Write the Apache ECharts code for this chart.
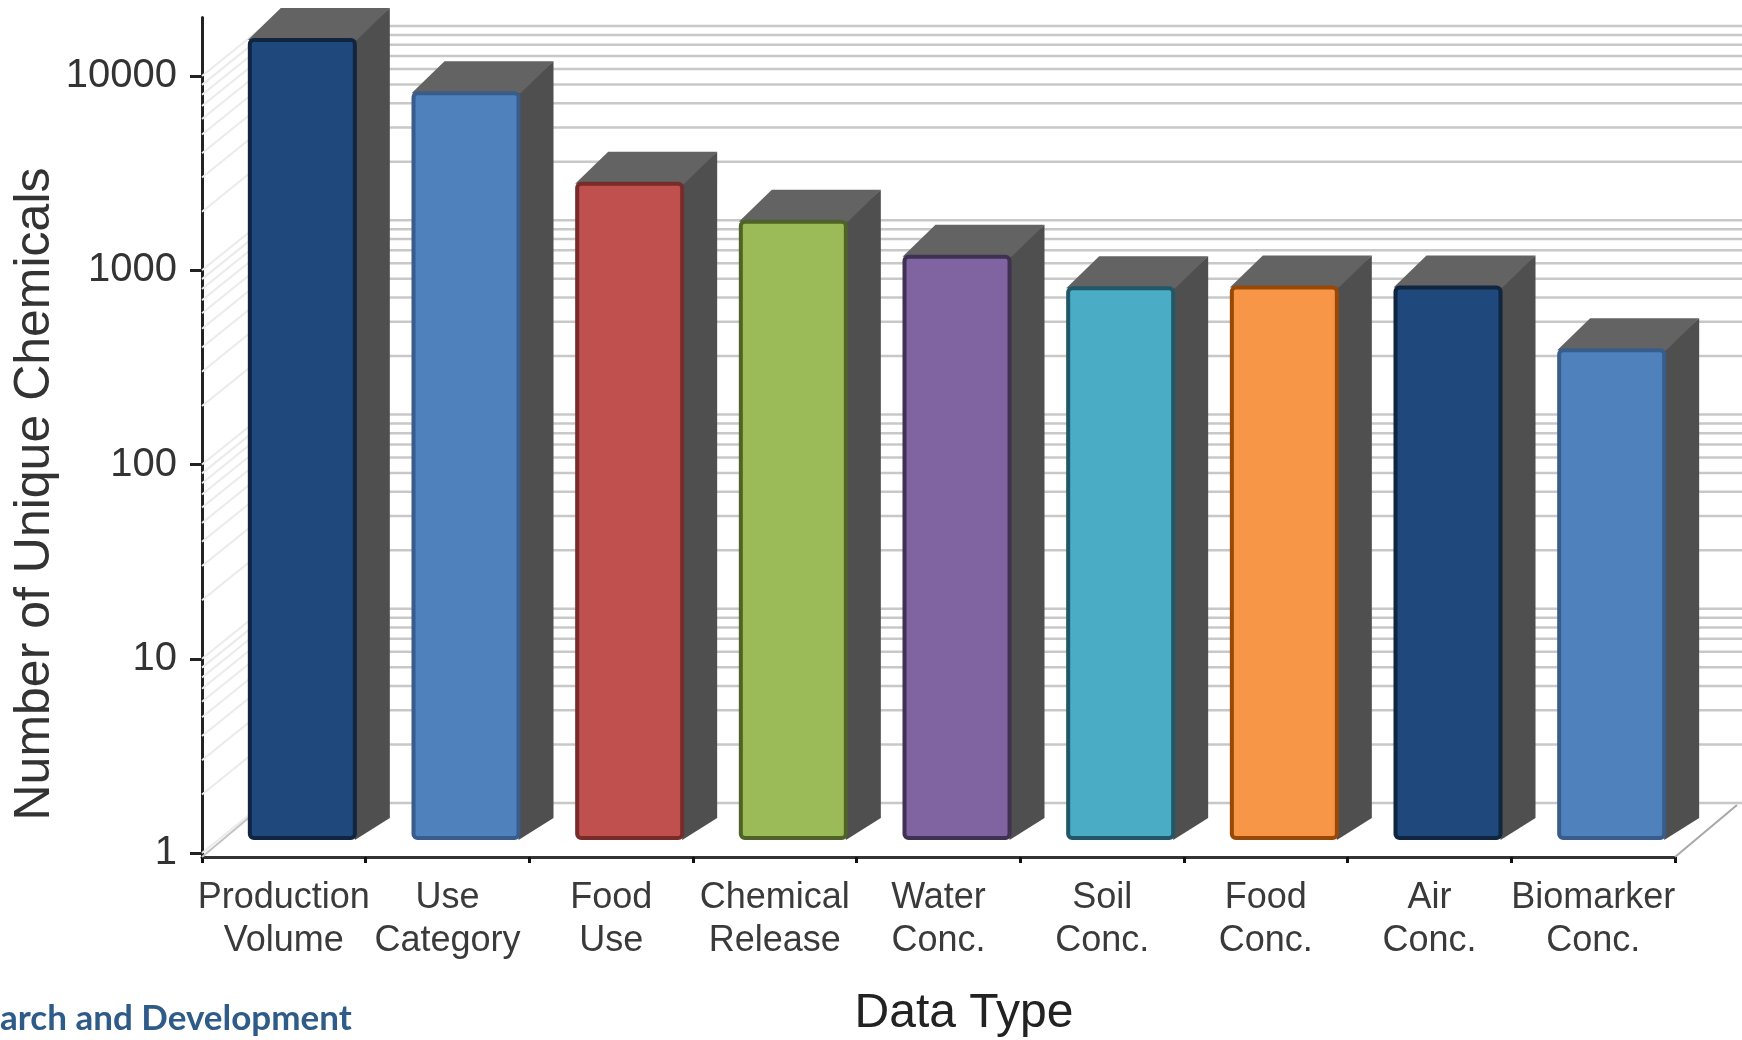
<!DOCTYPE html>
<html>
<head>
<meta charset="utf-8">
<title>Number of Unique Chemicals by Data Type</title>
<script src="https://cdn.jsdelivr.net/npm/echarts@6/dist/echarts.min.js"></script>
<style>
  html, body { margin: 0; padding: 0; background: #ffffff; }
  #chart { width: 1742px; height: 1040px; }
</style>
</head>
<body>
<div id="chart"></div>
<script>
// ---- data ----
const categories = [
  'Production\nVolume', 'Use\nCategory', 'Food\nUse', 'Chemical\nRelease',
  'Water\nConc.', 'Soil\nConc.', 'Food\nConc.', 'Air\nConc.', 'Biomarker\nConc.'
];
const chemicalCounts = [13450, 7150, 2450, 1560, 1030, 710, 715, 715, 340];
const barColors = ['#1f497d', '#4f81bd', '#c0504d', '#9bbb59', '#8064a2', '#4bacc6', '#f79646', '#1f497d', '#4f81bd'];
const barEdgeColors = ['#10253f', '#385d8a', '#772c2a', '#4f6228', '#3f3151', '#205867', '#984807', '#10253f', '#385d8a'];
const yTickValues = [1, 10, 100, 1000, 10000];

// minor log gridlines (1..9 within each decade) for the back wall
const wallGridValues = [];
yTickValues.slice(0, -1).forEach(function (d) {
  for (let m = 1; m <= 9; m++) wallGridValues.push(m * d);
});
wallGridValues.push(yTickValues[yTickValues.length - 1]);

// ---- pseudo-3D geometry (pixels) ----
const FONT = "'Liberation Sans', Arial, Helvetica, sans-serif";
const WALL_DX = 62, WALL_DY = 50;      // back wall offset from the axis plane
const FRONT_DX = 18.5, FRONT_DY = 13;  // front face of the bars from the axis plane
const BAR_W = 109;                     // front face width
const DEPTH_DX = 33, TOP_DY = 30, BOTTOM_DY = 22; // bar extrusion
const AXIS_Y_SHIFT = 4;                // x-axis line sits just below value 1

const chart = echarts.init(document.getElementById('chart'), null, { renderer: 'canvas' });

function renderWall(params, api) {
  const v = api.value(1);
  const p = api.coord([0, v]);
  const cs = params.coordSys;
  const yBack = p[1] - WALL_DY;
  const children = [
    { type: 'line', shape: { x1: cs.x + WALL_DX, y1: yBack, x2: api.getWidth(), y2: yBack },
      style: { stroke: '#c8c8c8', lineWidth: 2.5 } },
    { type: 'line', shape: { x1: cs.x, y1: p[1], x2: cs.x + WALL_DX, y2: yBack },
      style: { stroke: '#ebebeb', lineWidth: 2 } }
  ];
  if (params.dataIndex === 0) {
    const yFloor = p[1] + AXIS_Y_SHIFT;
    children.push(
      { type: 'line', shape: { x1: cs.x, y1: yFloor, x2: cs.x + WALL_DX, y2: yBack + 2 },
        style: { stroke: '#c4c4c4', lineWidth: 2 } },
      { type: 'line', shape: { x1: cs.x + cs.width, y1: yFloor, x2: cs.x + cs.width + WALL_DX, y2: yBack + 2 },
        style: { stroke: '#a8a8a8', lineWidth: 2 } }
    );
  }
  return { type: 'group', children: children };
}

function renderBar(params, api) {
  const i = api.value(0);
  const v = api.value(1);
  const base = api.coord([i, 1]);
  const top = api.coord([i, v]);
  const cx = base[0] + FRONT_DX;
  const x0 = cx - BAR_W / 2, x1 = cx + BAR_W / 2;
  const yb = base[1] - FRONT_DY, yt = top[1] - FRONT_DY;
  return {
    type: 'group',
    children: [
      { type: 'polygon',
        shape: { points: [[x1 - 2, yt], [x1 + DEPTH_DX, yt - TOP_DY], [x1 + DEPTH_DX, yb - BOTTOM_DY], [x1 - 2, yb]] },
        style: { fill: '#4f4f4f' } },
      { type: 'polygon',
        shape: { points: [[x0, yt + 2], [x0 + DEPTH_DX, yt - TOP_DY], [x1 + DEPTH_DX, yt - TOP_DY], [x1, yt + 2]] },
        style: { fill: '#636363' } },
      { type: 'rect',
        shape: { x: x0 + 2, y: yt + 2, width: BAR_W - 4, height: yb - yt - 4, r: 4 },
        style: { fill: barColors[params.dataIndex], stroke: barEdgeColors[params.dataIndex], lineWidth: 4 } }
    ]
  };
}

const option = {
  animation: false,
  backgroundColor: '#ffffff',
  grid: [
    // frame: axis lines
    { left: 202, right: 67, top: 17.5, bottom: 1040 - 857, containLabel: false, outerBoundsMode: 'none' },
    // decade scale shared by ticks, wall gridlines and bars (five decades, the top one above the page)
    { left: 202, right: 67, top: 853 - 5 * 194.25, bottom: 1040 - 853, containLabel: false, outerBoundsMode: 'none' }
  ],
  xAxis: [
    {
      gridIndex: 0, type: 'category', data: categories, boundaryGap: true,
      axisLine: { lineStyle: { color: '#333333', width: 3 } },
      axisTick: { show: true, length: 6, lineStyle: { color: '#111111', width: 3 } },
      axisLabel: { interval: 0, fontFamily: FONT, fontSize: 36, lineHeight: 43, color: '#3a3a3a', margin: 20 }
    },
    { gridIndex: 1, type: 'category', data: categories, boundaryGap: true, show: false }
  ],
  yAxis: [
    {
      gridIndex: 0, type: 'log', min: 1, max: 20000,
      axisLine: { show: true, lineStyle: { color: '#222222', width: 3 } },
      axisTick: { show: false }, axisLabel: { show: false }, splitLine: { show: false }
    },
    {
      gridIndex: 1, type: 'log', min: 1, max: 100000,
      axisLine: { show: false },
      axisTick: { show: true, length: 12, lineStyle: { color: '#222222', width: 3 } },
      axisLabel: {
        fontFamily: FONT, fontSize: 40, color: '#333333', margin: 25,
        formatter: function (v) { return yTickValues.indexOf(v) >= 0 ? String(v) : ''; }
      },
      splitLine: { show: false }
    }
  ],
  graphic: [
    { type: 'text', x: 35, y: 494, rotation: Math.PI / 2,
      style: { text: 'Number of Unique Chemicals', font: '50px ' + FONT, fill: '#333333',
               textAlign: 'center', textVerticalAlign: 'middle' } },
    { type: 'text', x: 964, y: 1014,
      style: { text: 'Data Type', font: '48px ' + FONT, fill: '#222222',
               textAlign: 'center', textVerticalAlign: 'middle' } },
    { type: 'text', x: 0, y: 1019,
      style: { text: 'arch and Development', font: 'bold 35px Lato, Calibri, sans-serif', fill: '#2f5b88',
               textAlign: 'left', textVerticalAlign: 'middle' } }
  ],
  series: [
    {
      type: 'custom', name: 'wall', xAxisIndex: 1, yAxisIndex: 1, silent: true, z: 1,
      data: wallGridValues.map(function (v) { return [0, v]; }),
      renderItem: renderWall
    },
    {
      type: 'custom', name: 'Number of Unique Chemicals', xAxisIndex: 1, yAxisIndex: 1, z: 3,
      data: chemicalCounts.map(function (v, i) { return [i, v]; }),
      encode: { x: 0, y: 1 },
      renderItem: renderBar
    }
  ]
};

chart.setOption(option);
</script>
</body>
</html>
